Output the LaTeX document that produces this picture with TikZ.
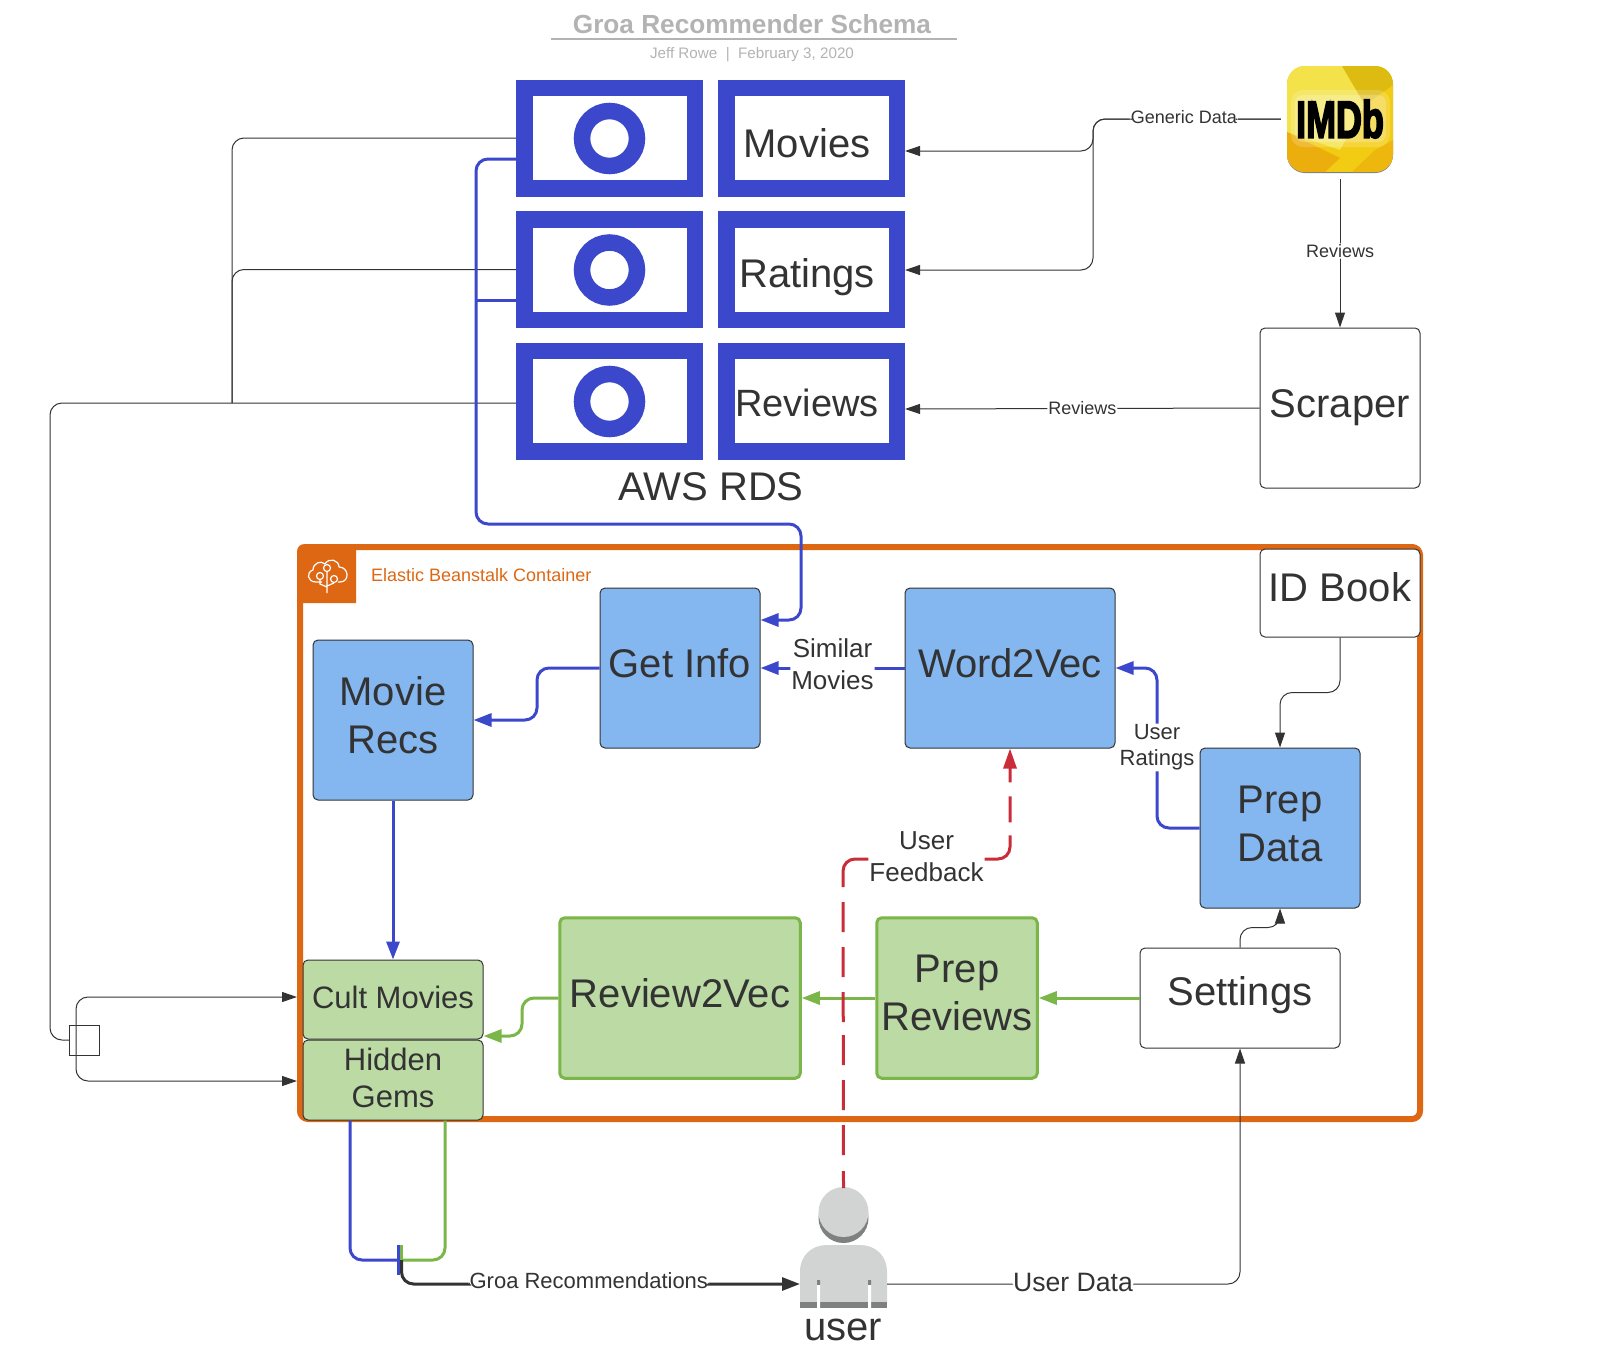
\documentclass[tikz,border=0pt]{standalone}
\usepackage{fontspec}
\setmainfont{Liberation Sans}
\newfontfamily\imdbfont[FakeBold=4]{Liberation Sans Bold}
\usetikzlibrary{calc, arrows.meta}
\definecolor{RdsBlue}{HTML}{3B48CC}
\definecolor{BoxBlue}{HTML}{84B6F0}
\definecolor{BoxGreen}{HTML}{BBDAA4}
\definecolor{EdgeGreen}{HTML}{7AB648}
\definecolor{BeanOrange}{HTML}{DD6713}
\definecolor{FeedbackRed}{HTML}{C92D39}
\definecolor{InkGray}{HTML}{333333}
\definecolor{TitleGray}{HTML}{B3B3B3}
\definecolor{UserLight}{HTML}{D2D3D3}
\definecolor{UserDark}{HTML}{7F8080}
\definecolor{GoldBase}{HTML}{F2CC12}
\definecolor{GoldPale}{HTML}{F3E24A}
\definecolor{GoldDark}{HTML}{DDBB10}
\definecolor{GoldDeep}{HTML}{EBAE0C}
\newcommand{\fs}[2]{\fontsize{#1}{#2}\selectfont}
\tikzset{
  dbbox/.style={draw=RdsBlue, fill=white, line width=16.5pt, minimum width=170.5pt, minimum height=100.5pt, inner sep=0pt},
  plainbox/.style={draw=InkGray, fill=white, line width=1pt, rounded corners=5pt, inner sep=0pt},
  bluebox/.style={plainbox, fill=BoxBlue},
  greenbox/.style={plainbox, draw=EdgeGreen, fill=BoxGreen, line width=3pt},
  cultbox/.style={plainbox, fill=BoxGreen},
  boxtext/.style={inner sep=0pt, align=center, text=InkGray, font=\fs{40}{47.5}},
  culttext/.style={inner sep=0pt, align=center, text=InkGray, font=\fs{31}{37}},
  tiny lbl/.style={fill=white, inner sep=1pt, text=InkGray, font=\fs{18}{22}},
  big lbl/.style={fill=white, inner sep=1pt, align=center, text=InkGray, font=\fs{26}{32}},
  mid lbl/.style={fill=white, inner sep=1pt, align=center, text=InkGray, font=\fs{22}{26}},
  thinline/.style={draw=InkGray, line width=1pt, rounded corners=12pt, -{Triangle[length=15pt,width=10pt]}},
  blueline/.style={draw=RdsBlue, line width=3pt, rounded corners=12pt, -{Triangle[length=18pt,width=13pt]}},
  greenline/.style={draw=EdgeGreen, line width=3pt, rounded corners=12pt, -{Triangle[length=18pt,width=13pt]}},
  fbdash/.style={dash pattern=on 17pt off 16pt on 30pt off 15pt on 30pt off 15pt on 30pt off 13pt on 30pt off 15pt on 30pt off 15pt on 30pt off 15pt on 208pt off 13pt on 26pt off 14pt on 60pt off 1pt},
}
\begin{document}
\begin{tikzpicture}[x=1pt, y=-1pt]
  \useasboundingbox (0,0) rectangle (1598,1360);

  % title
  \node[text=TitleGray, font=\bfseries\fs{26.2}{30}] (title) at (752,24) {Groa Recommender Schema};
  \node[text=TitleGray, font=\fs{15.2}{18}] (subtitle) at (752,55) {Jeff Rowe\ \ |\ \ February 3, 2020};
  \coordinate (ruleL) at (551,39);
  \coordinate (ruleR) at (957,39);
  \draw[TitleGray, line width=1.5pt] (ruleL) -- (ruleR);

  % container
  \draw[BeanOrange, line width=6pt, rounded corners=8pt] (300,547) rectangle (1420,1119);
  \fill[BeanOrange] (297,552) .. controls (297,547) and (300,544) .. (305,544) -- (356,544) -- (356,603) -- (297,603) -- cycle;
  \draw[white, line width=1.2pt, line join=round]
    (322,582) -- (316,582) .. controls (307,582) and (306,572) .. (313,570)
    .. controls (313,563) and (321,560) .. (325,564) .. controls (329,557) and (339,560) .. (339,567)
    .. controls (349,567) and (350,582) .. (340,582) -- (338,582);
  \draw[white, line width=1.2pt] (327,593) -- (327,572) (320,580) -- (320,584) -- (327,587) (334,583) -- (327,586);
  \draw[white, line width=1.2pt, fill=BeanOrange] (327,568) circle[radius=3.5] (320,576) circle[radius=3.5] (334,579) circle[radius=3.5];
  \node[anchor=west, inner sep=0pt, text=BeanOrange, font=\fs{18}{22}] (beanlabel) at (371,575) {Elastic Beanstalk Container};

  % rds
  \foreach \name/\ypos in {db1/138, db2/269.5, db3/401}{
    \node[dbbox] (\name) at (609.5,\ypos) {};
    \draw[RdsBlue, line width=16.5pt] ([yshift=-.5pt]\name.center) circle[radius=27.5];
  }
  \node[dbbox] (movies) at (811.5,138) {};
  \node[dbbox] (ratings) at (811.5,269.5) {};
  \node[dbbox] (reviews) at (811.5,401) {};
  \node[boxtext] (moviestext) at (807,143) {Movies};
  \node[boxtext] (ratingstext) at (807,277) {Ratings};
  \node[boxtext, font=\fs{38}{47}] (reviewstext) at (807,403) {Reviews};
  \node[boxtext] (rds) at (711,487) {AWS RDS};

  % imdb
  \node[minimum width=118pt, minimum height=120pt, inner sep=0pt] (imdb) at (1340,119) {};
  \fill[UserDark, rounded corners=18pt] (1287,67) rectangle (1393,173);
  \begin{scope}
    \clip[rounded corners=18pt] (1287,66) rectangle (1393,172);
    \fill[GoldBase] (1287,66) rectangle (1393,172);
    \fill[GoldPale] (1287,66) -- (1342,66) -- (1365,105) -- (1340,150) -- (1287,132) -- cycle;
    \fill[GoldDark] (1342,66) -- (1393,66) -- (1393,85) -- (1365,105) -- cycle;
    \fill[GoldDeep] (1287,132) -- (1340,158) -- (1325,172) -- (1287,172) -- cycle;
    \fill[GoldDeep!70!GoldBase] (1393,140) -- (1393,172) -- (1352,172) -- (1375,150) -- cycle;
    \fill[white, opacity=.18, rounded corners=12pt] (1291,90) rectangle (1390,147);
    \fill[white, opacity=.22, rounded corners=8pt] (1295,95) rectangle (1386,142);
  \end{scope}
  \node[inner sep=0pt, text=black, font=\imdbfont\fs{52}{52}] (imdbtext) at (1340,119) {\scalebox{.69}[1]{IMDb}};

  % nodes
  \node[plainbox, minimum width=160pt, minimum height=160pt] (scraper) at (1340,408) {};
  \node[boxtext] (scrapertext) at (scraper.center) {Scraper};
  \node[plainbox, minimum width=160pt, minimum height=88pt] (idbook) at (1340,593) {};
  \node[boxtext] (idbooktext) at ([yshift=6pt]idbook.center) {ID Book};
  \node[bluebox, minimum width=160pt, minimum height=160pt] (getinfo) at (680,668) {};
  \node[boxtext] (getinfotext) at ([yshift=5pt]getinfo.center) {Get Info};
  \node[bluebox, minimum width=210pt, minimum height=160pt] (word2vec) at (1010,668) {};
  \node[boxtext] (word2vectext) at ([yshift=5pt]word2vec.center) {Word2Vec};
  \node[bluebox, minimum width=160pt, minimum height=160pt] (movierecs) at (393,720) {};
  \node[boxtext] (movierecstext) at ([yshift=5pt]movierecs.center) {Movie\\Recs};
  \node[bluebox, minimum width=160pt, minimum height=160pt] (prepdata) at (1280,828) {};
  \node[boxtext] (prepdatatext) at ([yshift=4pt]prepdata.center) {Prep\\Data};
  \node[plainbox, minimum width=200pt, minimum height=100pt] (settings) at (1240,998) {};
  \node[boxtext] (settingstext) at ([yshift=3pt]settings.center) {Settings};
  \node[greenbox, minimum width=160.5pt, minimum height=160.5pt] (prepreviews) at (957,998) {};
  \node[boxtext] (prepreviewstext) at ([yshift=5pt]prepreviews.center) {Prep\\Reviews};
  \node[greenbox, minimum width=240.5pt, minimum height=160.5pt] (review2vec) at (680,998) {};
  \node[boxtext] (review2vectext) at ([yshift=5pt]review2vec.center) {Review2Vec};
  \node[cultbox, minimum width=180pt, minimum height=79pt] (cult) at (393,999.5) {};
  \node[culttext] (culttxt) at ([yshift=2pt]cult.center) {Cult Movies};
  \node[cultbox, minimum width=180pt, minimum height=80pt] (gems) at (393,1080) {};
  \node[culttext] (gemstxt) at ([yshift=2pt]gems.center) {Hidden\\Gems};

  % user
  \fill[UserDark] (843.5,1218) circle[radius=25];
  \fill[UserLight] (843.5,1212) circle[radius=25];
  \fill[UserLight] (800,1302) -- (800,1272) .. controls (800,1255) and (812,1245) .. (827,1245) -- (860,1245) .. controls (875,1245) and (887,1255) .. (887,1272) -- (887,1302) -- cycle;
  \fill[UserDark] (800,1302) rectangle (887,1308);
  \fill[UserDark] (817,1280) rectangle (820,1285) (868,1280) rectangle (871,1285);
  \fill[white] (817,1285) rectangle (820,1308) (868,1285) rectangle (871,1308);
  \node[minimum width=87pt, minimum height=120pt, inner sep=0pt, outer sep=0pt] (user) at (843.5,1248) {};
  \node[boxtext] (usertext) at (843,1330) {user};

  % small box on the left
  \node[draw=InkGray, line width=1pt, minimum width=30pt, minimum height=30pt, inner sep=0pt, outer sep=0pt] (smallbox) at (84.5,1040) {};

  % thin connectors
  \draw[thinline] (imdb.west) -- (1093,119) -- (1093,270) -- (ratings.east |- 0,270);
  \draw[thinline] (imdb.west) -- node[tiny lbl, pos=.516, yshift=2pt] (genericlbl) {Generic Data} (1093,119) -- (1093,151) -- (movies.east |- 0,151);
  \draw[thinline] (imdb.south) -- node[tiny lbl, pos=.484] (reviewslbl) {Reviews} (scraper.north);
  \draw[thinline] (scraper.west) -- node[tiny lbl, pos=.5] (reviewslbl2) {Reviews} (reviews.east |- 0,409);
  \draw[thinline] (idbook.south) -- ++(0,55) -| (prepdata.north);
  \draw[thinline] (settings.north) -- ++(0,-20) -| (prepdata.south);
  \coordinate (mergeL) at (232,403);
  \draw[draw=InkGray, line width=1pt, rounded corners=12pt] (db1.west) -| (mergeL);
  \draw[draw=InkGray, line width=1pt, rounded corners=12pt] (db2.west) -| (mergeL);
  \draw[draw=InkGray, line width=1pt, rounded corners=12pt] (db3.west |- 0,403) -- (50,403) |- (smallbox.west);
  \coordinate (splitB) at (76,1040);
  \coordinate (cultin) at (297,997);
  \coordinate (gemsin) at (297,1081);
  \draw[thinline] (splitB) |- (cultin);
  \draw[thinline] (splitB) |- (gemsin);
  \draw[thinline] (user.east |- 0,1284) -- node[big lbl, pos=.527, yshift=2pt, font=\fs{26.6}{32}] (userdatalbl) {User Data} (1240,1284) -- (settings.south);

  % blue connectors
  \draw[blueline] (db1.west |- 0,159) -- (476,159) -- (476,524) -- (801,524) -- (801,620) -- (getinfo.east |- 0,620);
  \draw[RdsBlue, line width=3pt] (db2.west |- 0,300) -- (476,300);
  \draw[blueline] (getinfo.west) -- (537,668) -- (537,720) -- (movierecs.east);
  \draw[blueline] (word2vec.west) -- node[big lbl, pos=.5, yshift=4pt] (similarlbl) {Similar\\Movies} (getinfo.east);
  \draw[blueline] (prepdata.west) -- (1157,828) -- node[mid lbl, pos=.5, yshift=.5pt] (ratingslbl) {User\\Ratings} (1157,668) -- (word2vec.east);
  \draw[blueline] (movierecs.south) -- (cult.north);

  % green connectors
  \draw[greenline] (settings.west) -- (prepreviews.east);
  \draw[greenline] (prepreviews.west) -- (review2vec.east);
  \draw[greenline] (review2vec.west) -- (522,998) -- (522,1036) -- (cult.east |- 0,1036);

  % feedback
  \coordinate (fbturn) at (843,859);
  \draw[FeedbackRed, line width=3pt, rounded corners=12pt, fbdash, -{Triangle[length=20pt,width=13pt]}]
    (user.north) -- (fbturn) -- node[big lbl, pos=.5, yshift=2pt] (feedbacklbl) {User\\Feedback} (1010,859) -- (word2vec.south);

  % recommendations
  \coordinate (jointB) at (399,1260);
  \coordinate (jointG) at (401.5,1260);
  \draw[RdsBlue, line width=3pt, rounded corners=12pt] (gems.south -| 350,0) -- (350,1260) -- (jointB);
  \draw[EdgeGreen, line width=3pt, rounded corners=12pt] (gems.south -| 445,0) -- (445,1260) -- (jointG);
  \draw[RdsBlue, line width=3pt] (398,1245) -- (398,1275);
  \draw[EdgeGreen, line width=3pt] (401.5,1245) -- (jointG);
  \draw[InkGray, line width=3pt, rounded corners=12pt, -{Triangle[length=18pt,width=13pt]}]
    (jointG) -- (401.5,1284) -- node[mid lbl, pos=.47, yshift=3pt] (groalbl) {Groa Recommendations} (user.west |- 0,1284);
\end{tikzpicture}
\end{document}
